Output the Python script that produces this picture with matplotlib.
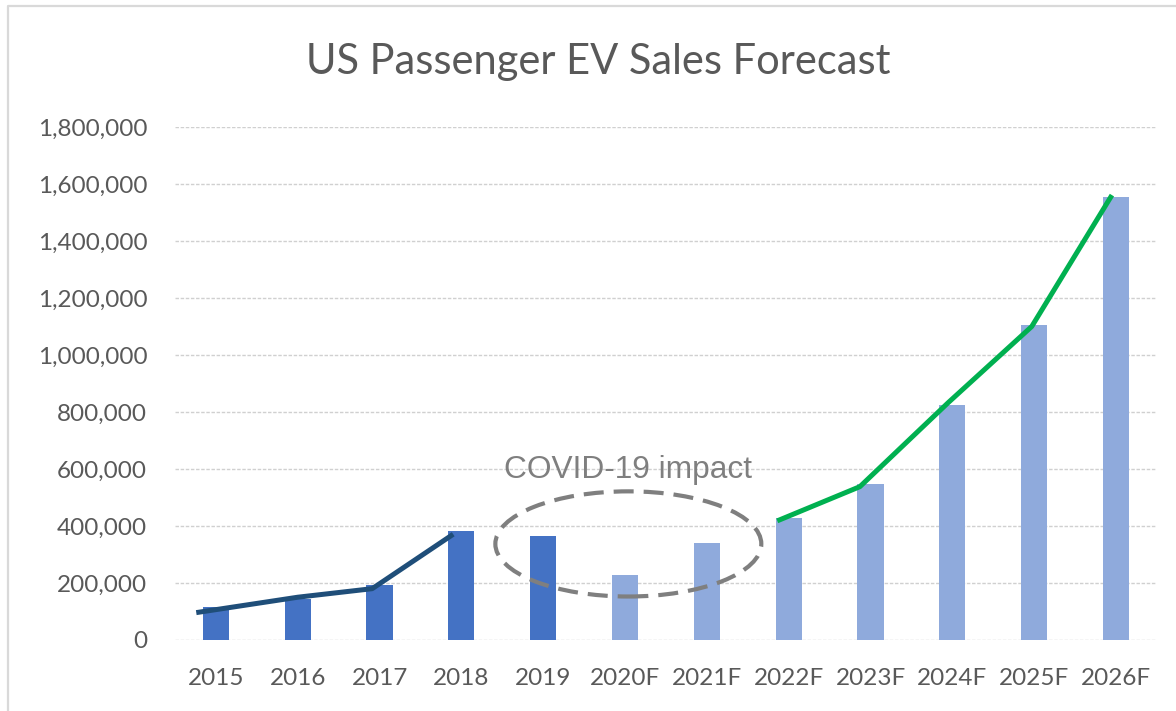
"""US Passenger EV Sales Forecast - столбцы с линиями тренда."""

import matplotlib
matplotlib.use("Agg")
import matplotlib.pyplot as plt
from matplotlib.patches import Ellipse
from matplotlib.lines import Line2D
from matplotlib.ticker import FuncFormatter

# Данные
years = ["2015", "2016", "2017", "2018", "2019", "2020F",
         "2021F", "2022F", "2023F", "2024F", "2025F", "2026F"]
sales = [115000, 144000, 192000, 384000, 365000, 227000,
         340000, 428000, 549000, 826000, 1104000, 1555000]
n_actual = 5  # 2015-2019 фактические

# Нарисованные от руки линии тренда (позиция по категориям, значение)
hist_x = [-0.24, 1.0, 1.91, 2.9]
hist_y = [96000, 150000, 180000, 371000]
fc_x = [6.86, 7.87, 8.95, 9.97, 10.95]
fc_y = [418000, 538000, 833000, 1100000, 1561000]

# Аннотация COVID
covid_label = "COVID-19 impact"
covid_center = (5.04, 337000)
covid_size = (3.25, 369000)
covid_text_y = 597000

DARK = "#4472C4"
LIGHT = "#8FAADC"
GREY_TXT = "#595959"

plt.rcParams["font.family"] = ["Lato", "DejaVu Sans"]


def plot_ev_sales():
    fig = plt.figure(figsize=(11.76, 7.11), dpi=100)
    ax = fig.add_axes([0.1488, 0.0999, 0.8350, 0.7215])

    x = range(len(years))
    colors = [DARK if i < n_actual else LIGHT for i in x]
    ax.bar(x, sales, width=0.32, color=colors, zorder=2)

    ax.plot(hist_x, hist_y, color="#1F4E79", linewidth=3.6,
            solid_capstyle="butt", zorder=3)
    ax.plot(fc_x, fc_y, color="#00B050", linewidth=3.6,
            solid_capstyle="butt", zorder=3)

    ell = Ellipse(covid_center, covid_size[0], covid_size[1], fill=False,
                  edgecolor="#7F7F7F", linewidth=3.0,
                  linestyle=(0, (4.8, 2.4)), zorder=4)
    ax.add_patch(ell)
    ax.text(covid_center[0], covid_text_y, covid_label, ha="center",
            va="center", fontsize=22.8, color="#7F7F7F",
            family="Liberation Sans", zorder=5)

    ax.set_xlim(-0.5, len(years) - 0.5)
    ax.set_ylim(0, 1800000)
    ax.set_yticks(range(0, 1800001, 200000))
    ax.yaxis.set_major_formatter(FuncFormatter(lambda v, p: f"{int(v):,}"))
    ax.set_xticks(list(x))
    ax.set_xticklabels(years)

    ax.grid(axis="y", color="#D0D0D0", linewidth=1.0,
            linestyle=(0, (2.5, 1.2)), zorder=0)
    ax.set_axisbelow(True)
    for s in ax.spines.values():
        s.set_visible(False)
    ax.tick_params(axis="both", length=0, labelsize=17.5, colors=GREY_TXT)
    ax.tick_params(axis="x", pad=20)
    ax.tick_params(axis="y", pad=20)

    fig.text(0.5085, 0.9135, "US Passenger EV Sales Forecast",
             ha="center", va="center", fontsize=30, color=GREY_TXT)

    # рамка области диаграммы (видны только левая и верхняя стороны)
    bx, by = 8 / 1176, 1 - 6 / 711
    fig.add_artist(Line2D([bx, bx, 1.0], [0.0, by, by],
                          transform=fig.transFigure, color="#D9D9D9",
                          linewidth=1.6))

    fig.savefig("out.png")
    plt.close(fig)


if __name__ == "__main__":
    plot_ev_sales()
